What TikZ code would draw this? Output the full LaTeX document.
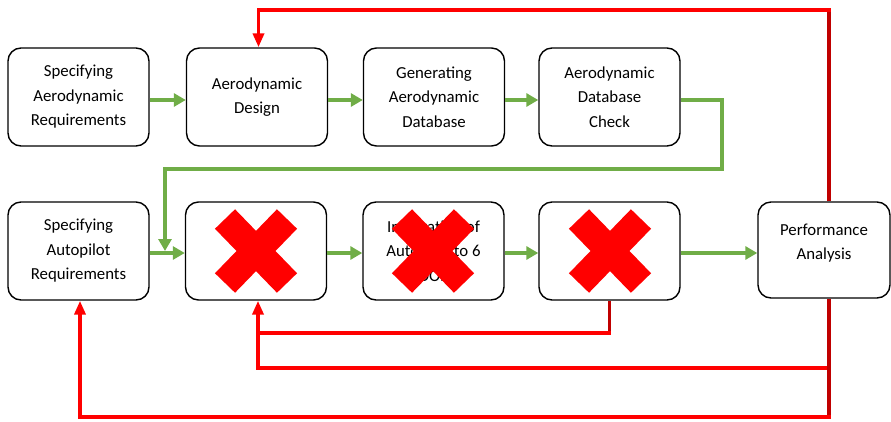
\documentclass[tikz,border=0pt]{standalone}
\usepackage{fontspec}
\setmainfont{Carlito}
\usetikzlibrary{arrows.meta}

\definecolor{flowgreen}{HTML}{70AD47}
\definecolor{loopred}{HTML}{FF0000}
\definecolor{darkloop}{HTML}{C00000}

\tikzset{
  stage/.style={draw=black, line width=1.4pt, fill=white, rounded corners=13pt,
    minimum width=141pt, minimum height=98pt, inner sep=0pt, align=center,
    font=\fontsize{16.8}{24.5}\selectfont},
  garrow/.style={draw=flowgreen, line width=3.2pt,
    -{Triangle[length=12pt,width=13pt]}},
  rarrow/.style={draw=loopred, line width=3.6pt,
    -{Triangle[length=14pt,width=11pt]}},
  rline/.style={draw=loopred, line width=3.6pt},
  rdark/.style={draw=darkloop, line width=3.6pt},
  xmark/.style={draw=loopred, line width=28pt, line cap=butt}
}

\begin{document}
\begin{tikzpicture}[x=1pt, y=-1pt]
\useasboundingbox (0,0) rectangle (891,421);

% upper row: aerodynamic chain
\node[stage] (s1) at (78.5,97)  {Specifying\\Aerodynamic\\Requirements};
\node[stage] (ad) at (257,97)   {Aerodynamic\\Design};
\node[stage] (gd) at (434,97)   {Generating\\Aerodynamic\\Database};
\node[stage] (dc) at (609.5,97) {Aerodynamic\\Database\\Check};

% lower row: autopilot chain
\node[stage] (ar) at (78.5,251) {Specifying\\Autopilot\\Requirements};
\node[stage] (x1) at (256,251)  {};
\node[stage] (it) at (433.5,251) {Integration of\\Autopilot to 6\\DOF};
\node[stage] (x3) at (609.5,251) {};
\node[stage, minimum width=132pt, minimum height=96pt] (pa) at (824,250) {};
\node[font=\fontsize{16.8}{24.5}\selectfont, align=center] (pat) at (824,243) {Performance\\Analysis};

% crossed-out stages
\foreach \n/\cx in {x1/0, it/-0.5, x3/0.5} {
  \draw[xmark] ([shift={(\cx-31,-32)}]\n.center) -- ([shift={(\cx+31,32)}]\n.center);
  \draw[xmark] ([shift={(\cx-31,32)}]\n.center) -- ([shift={(\cx+31,-32)}]\n.center);
}

% helper points for the routed connectors
\coordinate (rx) at (829,0);
\coordinate (gturn) at (722,169);
\coordinate (merge) at (165,251);

% forward flow (green)
\draw[garrow] ([yshift=-3pt]s1.east) -- ([yshift=-3pt]s1.east -| ad.west);
\draw[garrow] ([yshift=-3pt]ad.east) -- ([yshift=-3pt]ad.east -| gd.west);
\draw[garrow] ([yshift=-3pt]gd.east) -- ([yshift=-3pt]gd.east -| dc.west);
\draw[garrow] ([yshift=-3pt]dc.east) -| (gturn) -| (merge);
\draw[garrow] ([yshift=-2pt]ar.east) -- ([yshift=-2pt]ar.east -| x1.west);
\draw[garrow] ([yshift=-2pt]x1.east) -- ([yshift=-2pt]x1.east -| it.west);
\draw[garrow] ([yshift=-2pt]it.east) -- ([yshift=-2pt]it.east -| x3.west);
\draw[garrow] ([yshift=-2pt]x3.east) -- ([yshift=-2pt]x3.east -| pa.west);

% feedback loops (red)
\draw[rarrow] (pa.north -| rx) -- (rx |- 0,10) -| ([xshift=1.5pt]ad.north);
\draw[rarrow] (pa.south -| rx) -- (rx |- 0,417) -| ([xshift=1.5pt]ar.south);
\draw[rarrow] (rx |- 0,368) -| ([xshift=2pt]x1.south);
\draw[rline] (x3.south) -- (x3.south |- 0,333) -- ([xshift=2pt]x1.south |- 0,333);
\draw[rdark] (x3.south) -- (x3.south |- 0,331);
\draw[rdark] (pa.north -| rx) -- (rx |- 0,12);
\draw[rdark] (pa.south -| rx) -- (rx |- 0,415);
\end{tikzpicture}
\end{document}
